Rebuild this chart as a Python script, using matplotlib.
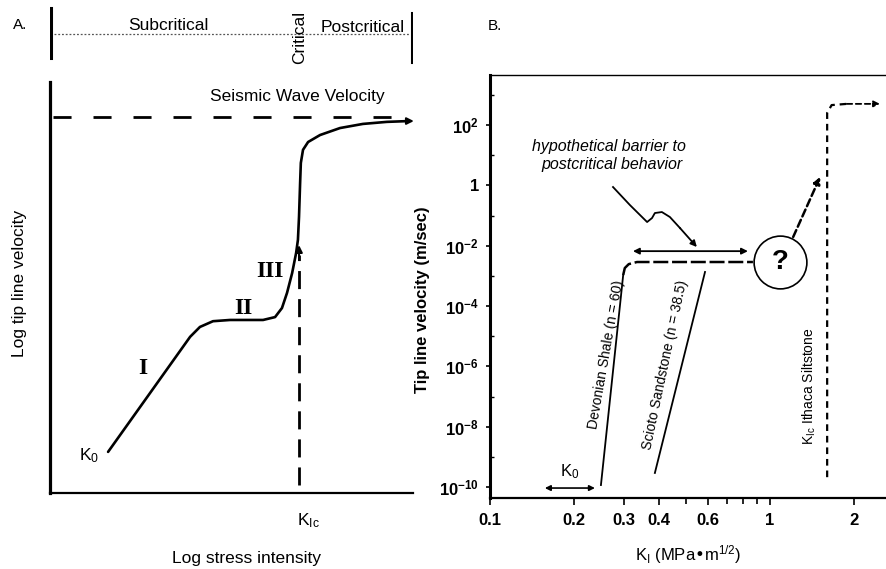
import numpy as np
import matplotlib
matplotlib.use('Agg')
import matplotlib.pyplot as plt

plt.rcParams['font.family'] = ['Liberation Sans', 'DejaVu Sans']
plt.rcParams['mathtext.default'] = 'regular'

# ---------------- Panel A data (schematic, arbitrary units 0-100) ----------------
a_curve_x = [16.0, 38.6, 41.3, 44.9, 49.6, 58.7, 62.0, 63.9, 65.3, 66.7, 67.8, 68.3,
             68.6, 68.9, 69.1, 69.7, 71.1, 74.4, 79.9, 86.2, 92.8, 99.0]
a_curve_y = [10.0, 38.0, 40.4, 41.8, 42.1, 42.1, 42.8, 45.0, 48.7, 53.5, 58.4, 61.6,
             67.2, 75.4, 80.3, 83.5, 85.4, 87.1, 88.8, 89.8, 90.3, 90.5]
a_seismic_level = 91.5
a_kic_x = 68.6
a_kic_y = [1.9, 61.0]
a_stage_labels = ['I', 'II', 'III']
a_stage_pos = [(25.6, 30.4), (53.2, 45.0), (60.6, 53.8)]
a_regimes = ['Subcritical', 'Critical', 'Postcritical']

# ---------------- Panel B data (K_I in MPa m^1/2, velocity in m/s) ----------------
devonian_K = [0.249, 0.299]
devonian_v = [10**-9.93, 10**-2.97]
devonian_top_K = [0.299, 0.303, 0.313, 0.335, 0.869]
devonian_top_v = [10**-2.97, 10**-2.74, 10**-2.61, 10**-2.54, 10**-2.54]
scioto_K = [0.388, 0.586]
scioto_v = [10**-9.53, 10**-2.87]
ithaca_v = [10**-9.67, 10**2.40, 10**2.66, 10**2.70, 10**2.70]
ithaca_K = [1.60, 1.60, 1.66, 1.88, 2.47]
barrier_K = [0.324, 0.834]
barrier_v = 10**-2.18
unknown_K, unknown_v = 1.086, 10**-2.54
jump_K = [1.21, 1.51]
jump_v = [10**-1.71, 10**0.28]
curl_K = [0.275, 0.316, 0.364, 0.379, 0.388, 0.411, 0.439, 0.477, 0.548]
curl_v = [10**-0.055, 10**-0.652, 10**-1.215, 10**-1.083, 10**-0.917, 10**-0.884,
          10**-1.049, 10**-1.414, 10**-2.044]
k0_K = [0.157, 0.237]
k0_v = 10**-10.03
xticks_major = [0.1, 0.2, 0.3, 0.4, 0.6, 1, 2]
xtick_labels = ['0.1', '0.2', '0.3', '0.4', '0.6', '1', '2']
xticks_minor = [0.5, 0.7, 0.8, 0.9]
yticks_exp = [2, 0, -2, -4, -6, -8, -10]

W, H = 886, 569
fig = plt.figure(figsize=(W / 100, H / 100), dpi=100)


def fx(px):
    return px / W


def fy(py):
    return 1 - py / H


# ================= Panel A =================
axA = fig.add_axes([fx(50), fy(493), (413 - 50) / W, (493 - 82) / H])
axA.set_xlim(0, 100)
axA.set_ylim(0, 100)
for s in ['top', 'right']:
    axA.spines[s].set_visible(False)
axA.spines['left'].set_linewidth(2.3)
axA.spines['bottom'].set_linewidth(1.6)
axA.set_xticks([])
axA.set_yticks([])

axA.plot(a_curve_x, a_curve_y, color='black', lw=1.9, solid_capstyle='round')
axA.annotate('', xy=(101, a_curve_y[-1]), xytext=(a_curve_x[-1] - 2, a_curve_y[-1]),
             arrowprops=dict(arrowstyle='-|>', color='black', lw=1.5, mutation_scale=10),
             annotation_clip=False)
axA.plot([0.8, 97], [a_seismic_level, a_seismic_level], color='black', lw=2,
         linestyle=(0, (6.5, 7.9)))
axA.plot([a_kic_x, a_kic_x], [a_kic_y[0], a_kic_y[1] - 3], color='black', lw=2,
         linestyle=(0, (6.5, 3.6)))
axA.annotate('', xy=(a_kic_x, a_kic_y[1]), xytext=(a_kic_x, a_kic_y[1] - 5),
             arrowprops=dict(arrowstyle='-|>', color='black', lw=1.5, mutation_scale=10))
for lab, (x, y) in zip(a_stage_labels, a_stage_pos):
    axA.text(x, y, lab, family='Liberation Serif', fontsize=17, fontweight='bold',
             ha='center', va='center')
axA.text(68.0, 96.4, 'Seismic Wave Velocity', fontsize=12.5, ha='center', va='center',
         clip_on=False)
axA.text(10.7, 9.2, r'K$_0$', fontsize=12.5, ha='center', va='center')
axA.text(68.1, -6.8, r'K$_{Ic}$', fontsize=12.5, ha='left', va='center', clip_on=False)

# regime band above panel A
axT = fig.add_axes([fx(50), fy(65), (413 - 50) / W, 60 / H])
axT.set_xlim(0, 100)
axT.set_ylim(65, 5)
axT.axis('off')
axT.plot([0.4, 0.4], [8, 58], color='black', lw=2.2)
axT.plot([99.6, 99.6], [13, 62], color='black', lw=2.2)
axT.plot([1, 99], [34, 34], color='#555555', lw=0.9, linestyle=(0, (1.5, 1.5)))
axT.text(32.5, 26, a_regimes[0], fontsize=12.5, ha='center', va='center')
axT.text(68.9, 37, a_regimes[1], fontsize=12.5, ha='center', va='center', rotation=90)
axT.text(86.2, 27, a_regimes[2], fontsize=12.5, ha='center', va='center')

fig.text(fx(20), fy(25), 'A.', fontsize=11, ha='center', va='center')
fig.text(fx(247), fy(558), 'Log stress intensity', fontsize=12.5, ha='center', va='center')
fig.text(fx(20), fy(283), 'Log tip line velocity', fontsize=12.5, ha='center',
         va='center', rotation=90)

# ================= Panel B =================
axB = fig.add_axes([fx(490), fy(498), (W - 490) / W, (498 - 75) / H])
axB.set_xscale('log')
axB.set_yscale('log')
axB.set_xlim(0.1, 10 ** (396 / 280 - 1))
axB.set_ylim(10 ** -10.36, 10 ** 3.657)
axB.spines['right'].set_visible(False)
axB.spines['left'].set_linewidth(2.2)
axB.spines['bottom'].set_linewidth(1.6)
axB.spines['top'].set_linewidth(1.0)

axB.set_xticks(xticks_major)
axB.set_xticklabels(xtick_labels, fontsize=12, fontweight='bold')
axB.set_xticks(xticks_minor, minor=True)
axB.xaxis.set_minor_formatter(plt.NullFormatter())
axB.tick_params(axis='x', which='major', direction='out', length=5, width=1.2, pad=6)
axB.tick_params(axis='x', which='minor', direction='out', length=4, width=1.2)

axB.set_yticks([10.0 ** e for e in yticks_exp])
axB.set_yticklabels(['1' if e == 0 else r'$10^{%d}$' % e for e in yticks_exp],
                    fontsize=12, fontweight='bold')
axB.set_yticks([10.0 ** e for e in range(-10, 4) if e not in yticks_exp], minor=True)
axB.yaxis.set_minor_formatter(plt.NullFormatter())
axB.tick_params(axis='y', which='major', direction='out', length=3, width=1.2, pad=5)
axB.tick_params(axis='y', which='minor', direction='in', length=3, width=1.0)

# curves
axB.plot(devonian_K, devonian_v, color='black', lw=1.3)
axB.plot(devonian_top_K, devonian_top_v, color='black', lw=1.8, linestyle=(0, (6, 1.5)))
axB.plot(scioto_K, scioto_v, color='black', lw=1.3)
axB.plot(ithaca_K[:-1], ithaca_v[:-1], color='black', lw=1.6, linestyle=(0, (3, 2.2)))
axB.annotate('', xy=(ithaca_K[-1], ithaca_v[-1]), xytext=(ithaca_K[-2], ithaca_v[-2]),
             arrowprops=dict(arrowstyle='-|>', color='black', lw=1.3, ls=(0, (3, 2)),
                             mutation_scale=9, shrinkA=0, shrinkB=0))
axB.annotate('', xy=(barrier_K[0], barrier_v), xytext=(barrier_K[1], barrier_v),
             arrowprops=dict(arrowstyle='<|-|>', color='black', lw=1.3,
                             mutation_scale=9, shrinkA=0, shrinkB=0))
axB.plot([unknown_K], [unknown_v], marker='o', ms=38, mfc='none', mec='black', mew=1.2)
axB.text(unknown_K, unknown_v, '?', fontsize=20, fontweight='bold', ha='center',
         va='center')
axB.annotate('', xy=(jump_K[1], jump_v[1]), xytext=(jump_K[0], jump_v[0]),
             arrowprops=dict(arrowstyle='-|>', color='black', lw=1.8, ls=(0, (3, 1.5)),
                             mutation_scale=10, shrinkA=0, shrinkB=0))
axB.plot(curl_K[:-1], curl_v[:-1], color='black', lw=1.3)
axB.annotate('', xy=(curl_K[-1], curl_v[-1]), xytext=(curl_K[-2], curl_v[-2]),
             arrowprops=dict(arrowstyle='-|>', color='black', lw=1.3, mutation_scale=9,
                             shrinkA=0, shrinkB=0))
axB.annotate('', xy=(k0_K[0], k0_v), xytext=(k0_K[1], k0_v),
             arrowprops=dict(arrowstyle='<|-|>', color='black', lw=1.2,
                             mutation_scale=8, shrinkA=0, shrinkB=0))
axB.text(0.193, 10 ** -9.5, r'K$_0$', fontsize=12, ha='center', va='center')


def ypx(py):
    return 10 ** (2 - (py - 125) / 30.17)


def xpx(px):
    return 10 ** (-1 + (px - 490) / 280)


# text labels in B
axB.text(xpx(609), ypx(146), 'hypothetical barrier to', fontsize=11.5, style='italic',
         ha='center', va='center')
axB.text(xpx(612), ypx(164), 'postcritical behavior', fontsize=11.5, style='italic',
         ha='center', va='center')
axB.text(xpx(606), ypx(355), 'Devonian Shale (n = 60)', fontsize=10,
         rotation=80, ha='center', va='center', rotation_mode='anchor')
axB.text(xpx(665), ypx(365), 'Scioto Sandstone (n = 38.5)', fontsize=10,
         rotation=78, ha='center', va='center', rotation_mode='anchor')
axB.text(xpx(809), ypx(386), r'K$_{Ic}$ Ithaca Siltstone', fontsize=10,
         rotation=90, ha='center', va='center')

fig.text(fx(495), fy(26), 'B.', fontsize=11, ha='center', va='center')
fig.text(fx(423), fy(300), 'Tip line velocity (m/sec)', fontsize=12, fontweight='bold',
         ha='center', va='center', rotation=90)
fig.text(fx(688), fy(555), r'K$_I$ (MPa•m$^{1/2}$)', fontsize=12, ha='center',
         va='center')

fig.savefig('out.png', dpi=100, facecolor='white')
